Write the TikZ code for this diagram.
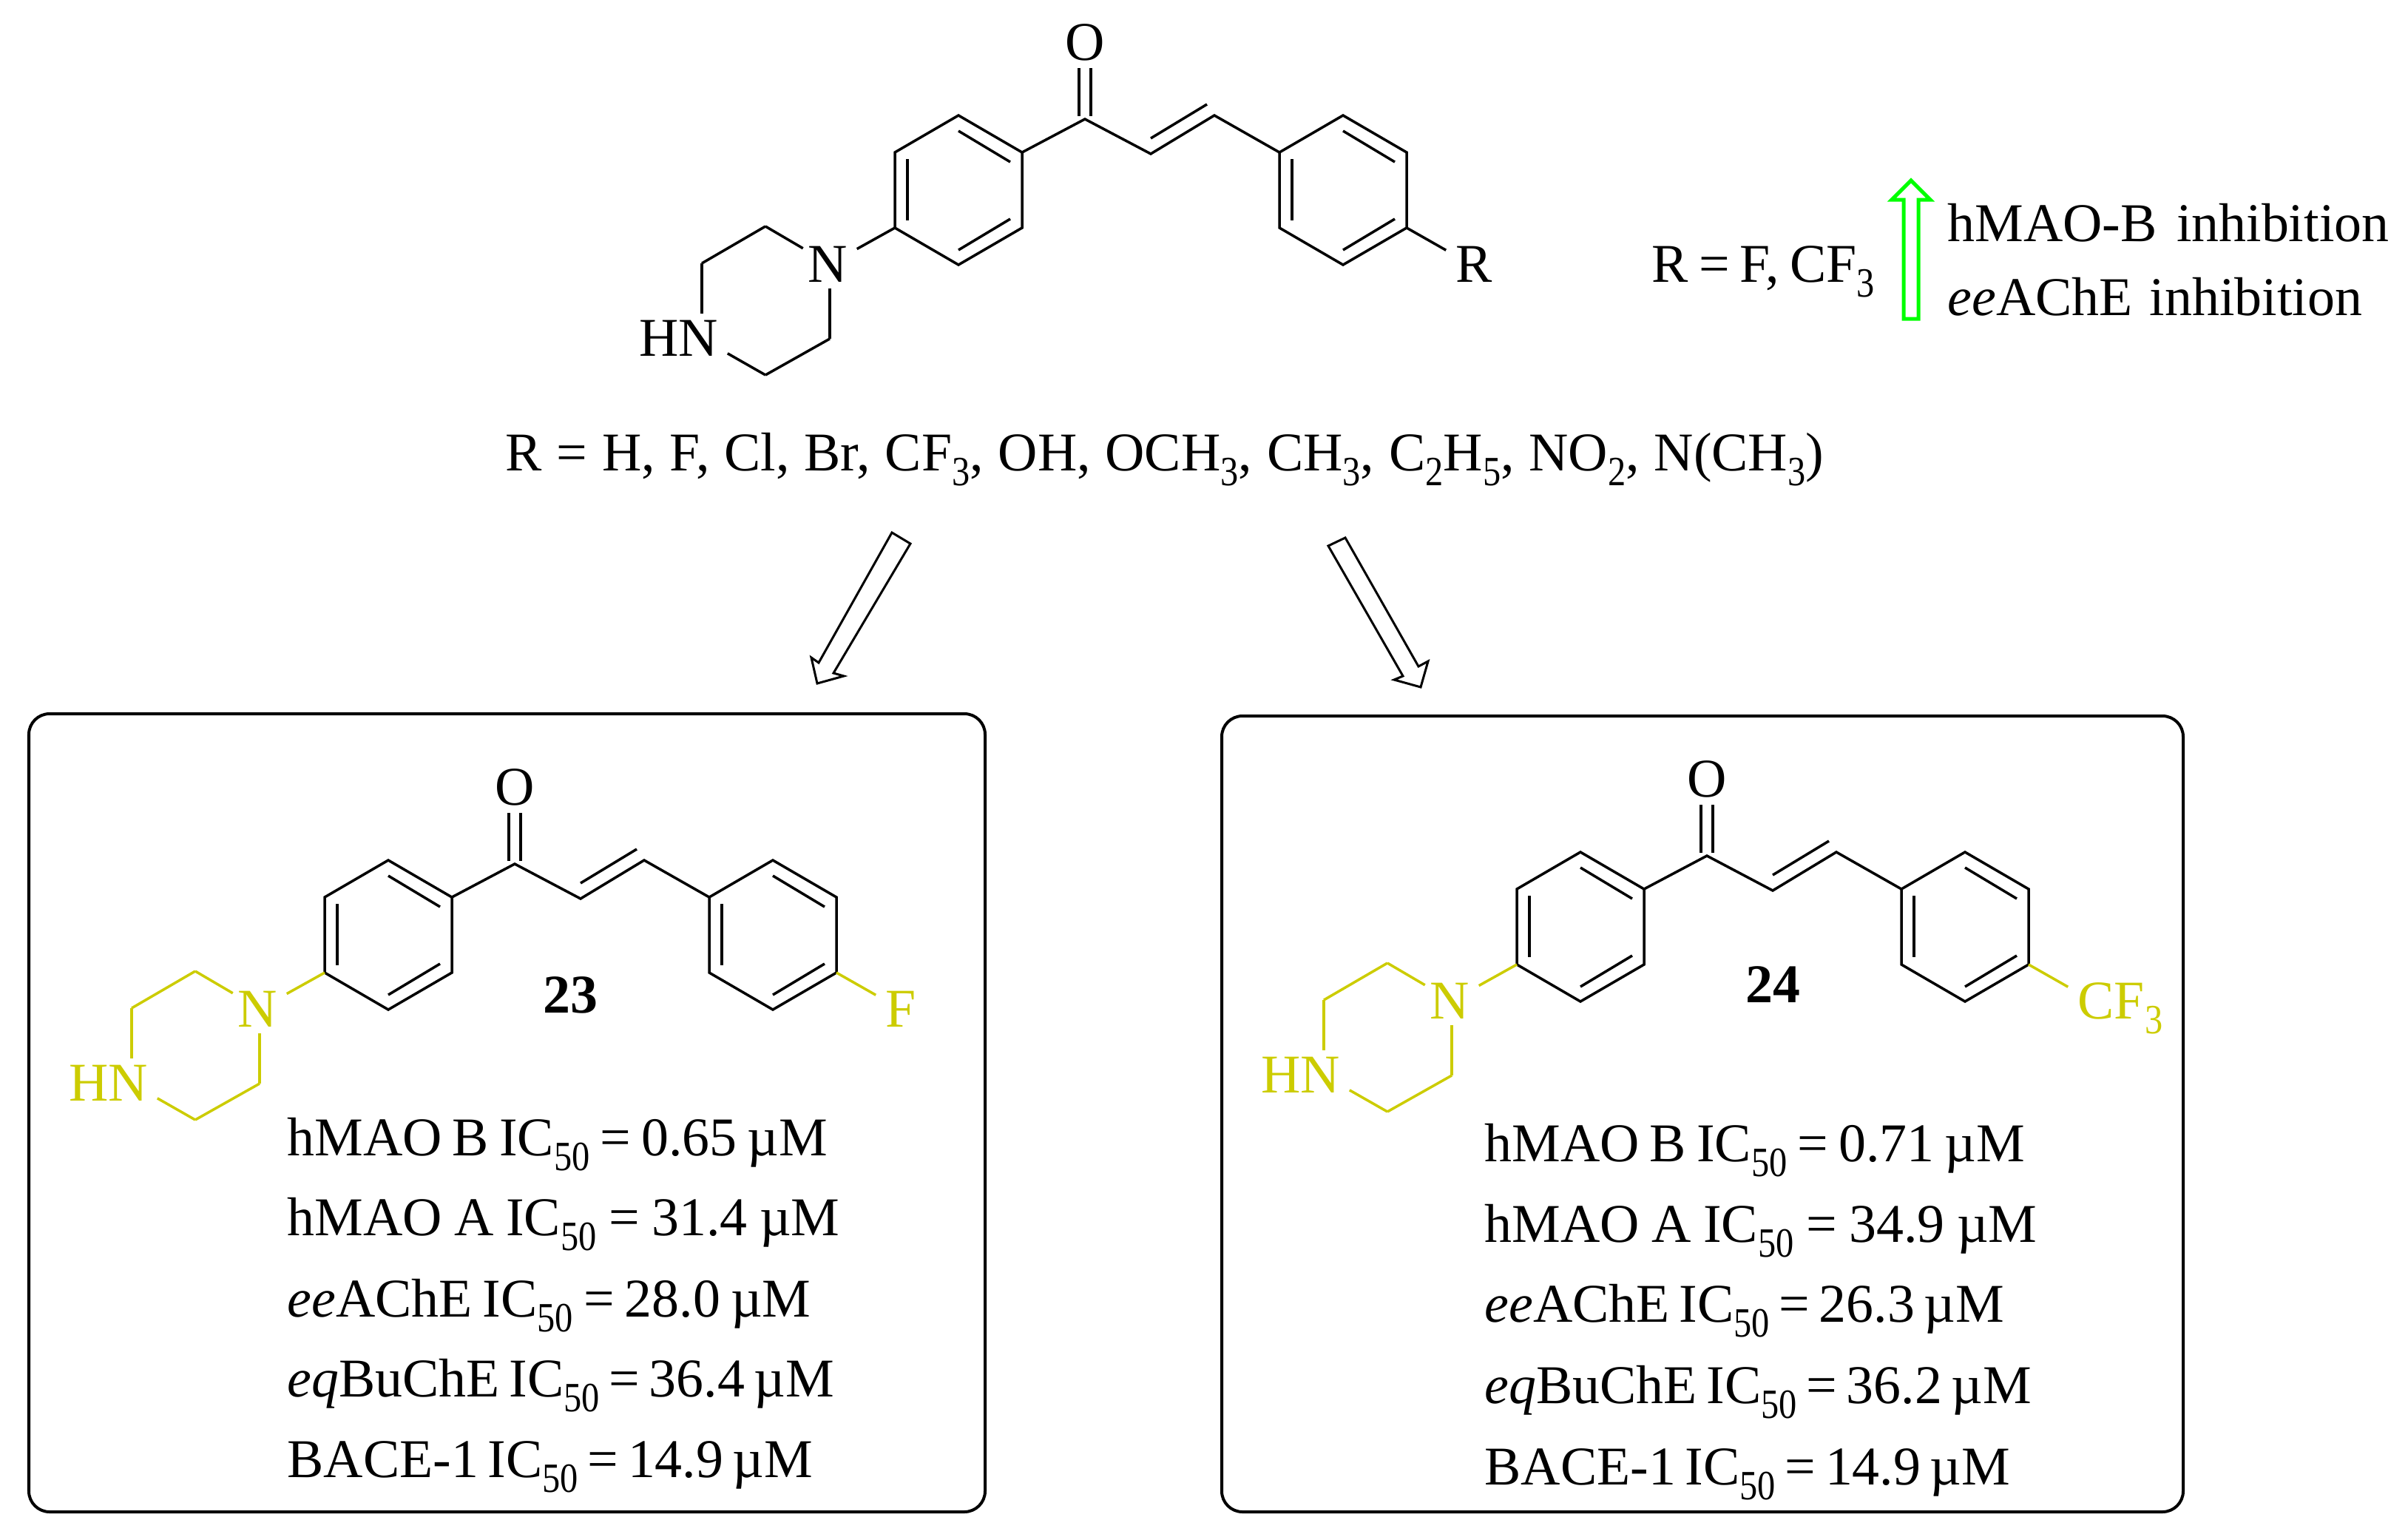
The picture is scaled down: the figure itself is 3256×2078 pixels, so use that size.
\documentclass[tikz,border=0pt]{standalone}
\usepackage{fontspec}
\setmainfont{Liberation Serif}
\newfontface\subface{Liberation Serif}[FakeStretch=0.86]
\usetikzlibrary{calc}

\definecolor{subyellow}{RGB}{204,204,0}
\definecolor{upgreen}{RGB}{0,255,0}

\newcommand{\lowidx}[1]{\raisebox{-5.7pt}{\subface\fontsize{16}{16}\selectfont #1}}
\newcommand{\tightwords}[1][3.6pt]{\spaceskip=#1\relax\ignorespaces}

\tikzset{
  atomlabel/.style={inner sep=0pt, font=\fontsize{21}{25}\selectfont},
  datalabel/.style={inner sep=0pt, anchor=base west, font=\fontsize{21}{25}\selectfont},
  cmpdlabel/.style={inner sep=0pt, anchor=base, font=\fontsize{21}{25}\selectfont\bfseries},
  bond/.style={line width=0.035cm, line join=miter},
  resultbox/.style={line width=0.04cm, rounded corners=0.28cm},
  blockarrow/.style={line width=0.03cm, line join=miter},
  greenarrow/.style={line width=0.05cm, draw=upgreen, line join=miter}
}

% one benzene ring, #1 = name prefix, #2 = x offset
\newcommand{\phring}[2]{
  \coordinate (#1a) at (#2+1296,156);
  \coordinate (#1b) at (#2+1382,206);
  \coordinate (#1c) at (#2+1382,308);
  \coordinate (#1d) at (#2+1296,358);
  \coordinate (#1e) at (#2+1210,308);
  \coordinate (#1f) at (#2+1210,206);
  \draw[bond] (#1a) -- (#1b) -- (#1c) -- (#1d) -- (#1e) -- (#1f) -- cycle;
  \draw[bond] (#2+1296,177) -- (#2+1366,219);
  \draw[bond] (#2+1227,215) -- (#2+1227,298);
  \draw[bond] (#2+1296,338) -- (#2+1366,296);
}

% #1 = prefix, #2 = shift, #3 = colour of the piperazine and of R, #4 = text of R
\newcommand{\chalcone}[4]{
  \begin{scope}[shift={(#2)}]
    \phring{#1p}{0}
    \phring{#1q}{520}
    \coordinate (#1co) at (1467,161);
    \coordinate (#1ca) at (1556,208);
    \coordinate (#1cb) at (1642,156);
    \node[atomlabel, anchor=base] (#1oxy) at (1467,81) {O};
    \draw[bond] (1459,92) -- (1459,157);
    \draw[bond] (1475,92) -- (1475,157);
    \draw[bond] (#1pb) -- (#1co) -- (#1ca) -- (#1cb) -- (#1qf);
    \draw[bond] (1556,187) -- (1632,141);
    % piperazine
    \coordinate (#1vn) at (1122,357);
    \coordinate (#1ph) at (1035,306);
    \coordinate (#1pk) at (949,356);
    \coordinate (#1vh) at (949,458);
    \coordinate (#1pm) at (1035,507);
    \coordinate (#1pn) at (1122,458);
    \node[atomlabel, anchor=base, text=#3] (#1nit) at (1119,381) {N};
    \node[atomlabel, anchor=base east, text=#3] (#1hn) at (972,481) {HN};
    \draw[bond, draw=#3, shorten >=0.42cm] (#1pe) -- (#1vn);
    \draw[bond, draw=#3, shorten >=0.42cm] (#1ph) -- (#1vn);
    \draw[bond, draw=#3] (#1pk) -- (#1ph);
    \draw[bond, draw=#3, shorten >=0.34cm] (#1pk) -- (#1vh);
    \draw[bond, draw=#3, shorten >=0.4cm] (#1pm) -- (#1vh);
    \draw[bond, draw=#3] (#1pn) -- (#1pm);
    \draw[bond, draw=#3, shorten >=0.33cm] (#1pn) -- (#1vn);
    % substituent
    \coordinate (#1vr) at (1990,358);
    \node[atomlabel, anchor=base west, text=#3] (#1sub) at (1968,381) {#4};
    \draw[bond, draw=#3, shorten >=0.4cm] (#1qc) -- (#1vr);
  \end{scope}
}

\begin{document}
\begin{tikzpicture}[x=0.01cm, y=-0.01cm]
  \useasboundingbox (0,0) rectangle (3256,2078);

  \chalcone{top}{0,0}{black}{R}

  \node[datalabel] (rlist) at (683,636) {\tightwords[5.65pt] R = H, F, Cl, Br, CF\lowidx{3}, OH, OCH\lowidx{3}, CH\lowidx{3}, C\lowidx{2}H\lowidx{5}, NO\lowidx{2}, N(CH\lowidx{3})};
  \node[datalabel] (rbest) at (2233,381) {\tightwords[4pt] R = F, CF\lowidx{3}};
  \node[datalabel] (maoup) at (2633,326) {\tightwords[7.5pt] hMAO-B inhibition};
  \node[datalabel] (acheup) at (2633,426) {\tightwords[6.5pt] \textit{ee}AChE inhibition};

  % green arrow
  \draw[greenarrow] (2574,431) -- (2574,270) -- (2558,270) -- (2584,244) -- (2610,270) -- (2594,270) -- (2594,431) -- cycle;

  % arrows to the two boxes
  \draw[blockarrow] (1206,720) -- (1231,735) -- (1127,910) -- (1141,914) -- (1105,924) -- (1097,889) -- (1107,896) -- cycle;
  \draw[blockarrow] (1796,738) -- (1819,727) -- (1918,901) -- (1931,894) -- (1921,929) -- (1885,919) -- (1897,914) -- cycle;

  \draw[resultbox] (39,965) rectangle (1332,2044);
  \draw[resultbox] (1652,968) rectangle (2952,2044);

  \chalcone{ff}{-771,1007}{subyellow}{F}
  \chalcone{cf}{841,996}{subyellow}{CF\lowidx{3}}

  \node[cmpdlabel] (numff) at (771,1369) {23};
  \node[cmpdlabel] (numcf) at (2397,1355) {24};

  \node[datalabel] (ffb) at (388,1562) {\tightwords[4pt] hMAO B IC\lowidx{50} = 0.65 µM};
  \node[datalabel] (ffa) at (388,1670) {\tightwords[4.7pt] hMAO A IC\lowidx{50} = 31.4 µM};
  \node[datalabel] (ffe) at (388,1780) {\tightwords[4pt] \textit{ee}AChE IC\lowidx{50} = 28.0 µM};
  \node[datalabel] (ffq) at (388,1888) {\tightwords \textit{eq}BuChE IC\lowidx{50} = 36.4 µM};
  \node[datalabel] (ffs) at (388,1997) {\tightwords BACE-1 IC\lowidx{50} = 14.9 µM};

  \node[datalabel] (cfb) at (2007,1570) {\tightwords[4pt] hMAO B IC\lowidx{50} = 0.71 µM};
  \node[datalabel] (cfa) at (2007,1679) {\tightwords[4.7pt] hMAO A IC\lowidx{50} = 34.9 µM};
  \node[datalabel] (cfe) at (2007,1787) {\tightwords \textit{ee}AChE IC\lowidx{50} = 26.3 µM};
  \node[datalabel] (cfq) at (2007,1897) {\tightwords \textit{eq}BuChE IC\lowidx{50} = 36.2 µM};
  \node[datalabel] (cfs) at (2007,2007) {\tightwords BACE-1 IC\lowidx{50} = 14.9 µM};
\end{tikzpicture}
\end{document}
